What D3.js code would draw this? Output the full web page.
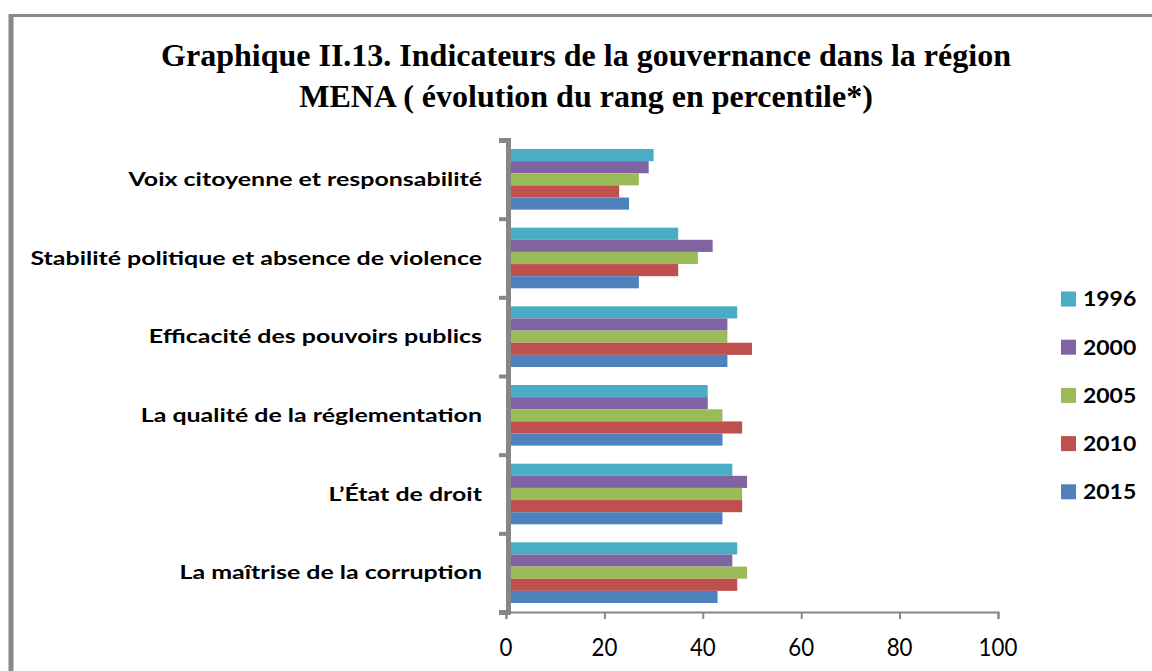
<!DOCTYPE html>
<html>
<head>
<meta charset="utf-8">
<script src="https://cdn.jsdelivr.net/npm/d3@7"></script>
<style>
  body { margin: 0; background: #fff; }
  svg { display: block; }
  .cat { font-family: Lato, "Open Sans", sans-serif; font-weight: bold; font-size: 19.5px; }
  .tick-lbl { font-family: Lato, "Open Sans", sans-serif; font-size: 23px; }
  .legend text { font-family: Lato, "Open Sans", sans-serif; font-weight: bold; font-size: 20.5px; }
  .title { font-family: "Liberation Serif", "Times New Roman", serif; font-weight: bold; font-size: 32px; }
</style>
</head>
<body>
<div id="chart"></div>
<script>
// categories, top to bottom
var categories = [
  "Voix citoyenne et responsabilité",
  "Stabilité politique et absence de violence",
  "Efficacité des pouvoirs publics",
  "La qualité de la réglementation",
  "L\u2019État de droit",
  "La maîtrise de la corruption"
];

var years = ["1996", "2000", "2005", "2010", "2015"];

// percentile rank, one value per category (same order as categories)
var v1996 = [30, 35, 47, 41, 46, 47];
var v2000 = [29, 42, 45, 41, 49, 46];
var v2005 = [27, 39, 45, 44, 48, 49];
var v2010 = [23, 35, 50, 48, 48, 47];
var v2015 = [25, 27, 45, 44, 44, 43];

var xTicks = [0, 20, 40, 60, 80, 100];

var colors = ["#4BACC6", "#8064A2", "#9BBB59", "#C0504D", "#4F81BD"];

var series = [v1996, v2000, v2005, v2010, v2015];

var data = categories.map(function(c, i) {
  return { cat: c, values: years.map(function(y, j) { return { year: y, value: series[j][i] }; }) };
});

var W = 1152, H = 671;

var svg = d3.select("#chart").append("svg")
    .attr("width", W)
    .attr("height", H);

// frame round the chart (runs off the right and bottom edges)
svg.append("rect")
    .attr("x", 10.5).attr("y", 15.5)
    .attr("width", 1200).attr("height", 700)
    .attr("fill", "none")
    .attr("stroke", "#888888")
    .attr("stroke-width", 3);
svg.append("line")
    .attr("x1", 11).attr("x2", 11).attr("y1", 14).attr("y2", H)
    .attr("stroke", "#888888").attr("stroke-width", 5);

// title
var title = svg.append("text").attr("class", "title").attr("text-anchor", "middle");
title.append("tspan").attr("x", 586).attr("y", 66)
    .text("Graphique II.13. Indicateurs de la gouvernance dans la région");
title.append("tspan").attr("x", 586).attr("y", 107)
    .text("MENA ( évolution du rang en percentile*)");

// scales
var x = d3.scaleLinear().domain([0, 100]).range([506, 998]);
var y0 = d3.scaleBand().domain(categories).range([140, 612])
    .paddingInner(0.229).paddingOuter(0.1145);
var y1 = d3.scaleBand().domain(years).range([0, y0.bandwidth()]);

// bars
var groups = svg.selectAll(".cat-group")
    .data(data)
    .enter().append("g")
    .attr("class", "cat-group")
    .attr("transform", function(d) { return "translate(0," + y0(d.cat) + ")"; });

groups.selectAll("rect")
    .data(function(d) { return d.values; })
    .enter().append("rect")
    .attr("x", x(0))
    .attr("y", function(d) { return y1(d.year); })
    .attr("width", function(d) { return x(d.value) - x(0); })
    .attr("height", y1.bandwidth())
    .attr("fill", function(d) { return colors[years.indexOf(d.year)]; });

// x axis
var xAxis = svg.append("g")
    .attr("transform", "translate(0,612)")
    .call(d3.axisBottom(x).tickValues(xTicks).tickSize(7).tickFormat(""));
xAxis.select(".domain").attr("stroke", "#868686").attr("stroke-width", 2);
xAxis.selectAll(".tick line").attr("stroke", "#868686").attr("stroke-width", 2);

// tick labels, a bit taller than the font draws them
svg.selectAll(".tick-lbl")
    .data(xTicks)
    .enter().append("text")
    .attr("class", "tick-lbl")
    .attr("transform", function(d) { return "translate(" + x(d) + ",656) scale(0.97,1.13)"; })
    .attr("text-anchor", "middle")
    .text(function(d) { return d; });

// y axis: ticks between the categories
var yEdge = d3.scaleLinear().domain([0, categories.length]).range([140, 612]);
var yAxis = svg.append("g")
    .attr("transform", "translate(508,0)")
    .call(d3.axisLeft(yEdge).ticks(categories.length).tickSize(9).tickFormat(""));
yAxis.select(".domain").attr("stroke", "#868686").attr("stroke-width", 5);
yAxis.selectAll(".tick line").attr("stroke", "#868686").attr("stroke-width", 4);

// category labels, stretched wide like the original
svg.selectAll(".cat")
    .data(categories)
    .enter().append("text")
    .attr("class", "cat")
    .attr("transform", function(d) {
      return "translate(482," + (y0(d) + y0.bandwidth() / 2) + ") scale(1.28,1)";
    })
    .attr("dy", "0.35em")
    .attr("text-anchor", "end")
    .text(function(d) { return d; });

// legend
var legend = svg.append("g").attr("class", "legend")
    .selectAll("g")
    .data(years)
    .enter().append("g")
    .attr("transform", function(d, i) { return "translate(1061," + (299 + i * 48.2) + ")"; });

legend.append("rect")
    .attr("x", 0).attr("y", -7.5)
    .attr("width", 15).attr("height", 15)
    .attr("fill", function(d, i) { return colors[i]; });

legend.append("text")
    .attr("transform", "translate(22,0) scale(1.12,1)")
    .attr("dy", "0.36em")
    .text(function(d) { return d; });
</script>
</body>
</html>
